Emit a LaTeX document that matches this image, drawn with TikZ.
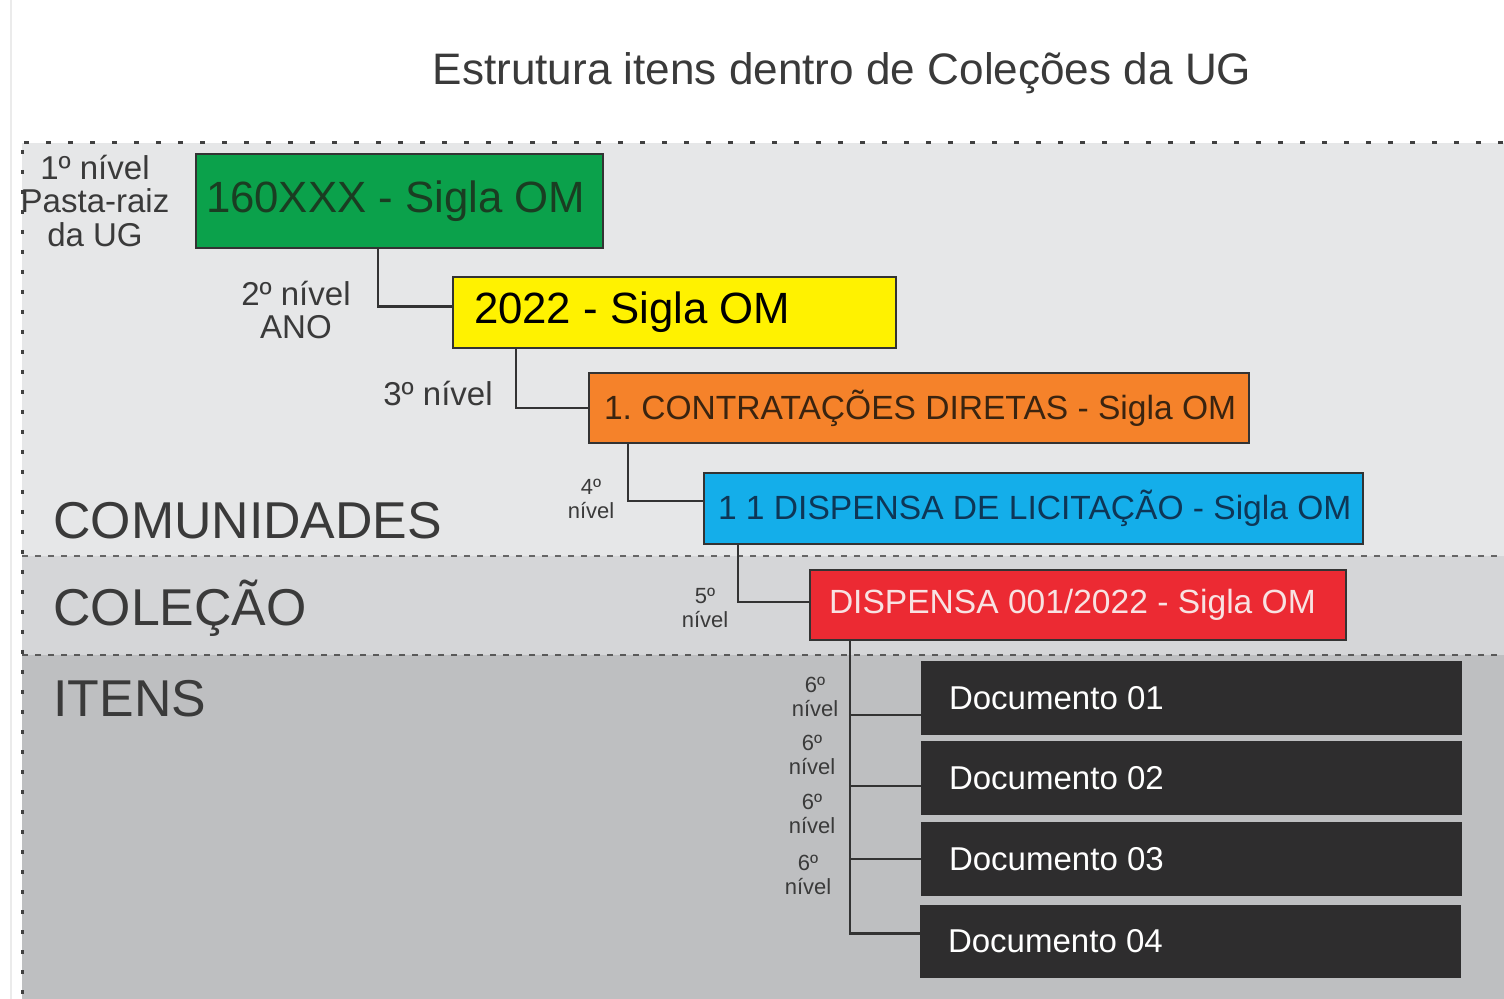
\documentclass[tikz,border=0pt]{standalone}
\usepackage{fontspec}
\setmainfont{Liberation Sans}
\frenchspacing
\newdimen\pxu \pxu=0.02cm
\definecolor{bandA}{HTML}{E6E7E8}
\definecolor{bandB}{HTML}{D5D6D8}
\definecolor{bandC}{HTML}{BEBFC1}
\definecolor{cgreen}{HTML}{0BA14B}
\definecolor{cyellow}{HTML}{FFF200}
\definecolor{corange}{HTML}{F5822A}
\definecolor{cblue}{HTML}{14AEEA}
\definecolor{cred}{HTML}{EC2A33}
\definecolor{cdoc}{HTML}{2E2D2E}
\definecolor{bd}{HTML}{333333}
\definecolor{lbl}{HTML}{3A3A3A}
\definecolor{tgreen}{HTML}{1A3D22}
\definecolor{torange}{HTML}{3A2410}
\definecolor{tblue}{HTML}{0E3656}
\definecolor{tred}{HTML}{F8E2E2}
\newcommand\fTitle{\fontsize{25.1pt}{29pt}\selectfont}
\newcommand\fBig{\fontsize{24.9pt}{29pt}\selectfont}
\newcommand\fMid{\fontsize{18.8pt}{19.3pt}\selectfont}
\newcommand\fBox{\fontsize{19.1pt}{19.3pt}\selectfont}
\newcommand\fSm{\fontsize{12.5pt}{13.4pt}\selectfont}
\newcommand\fBand{\fontsize{29.5pt}{34pt}\selectfont}
\newcommand\lbox[2]{\makebox[#1\pxu][l]{#2}}
\tikzset{
  box/.style={draw=bd, line width=2\pxu, anchor=north west, inner ysep=0pt},
  conn/.style={draw=bd, line width=2.6\pxu},
  lab/.style={text=lbl, align=center, inner sep=0pt},
  bandlab/.style={text=lbl, font=\fBand, anchor=base west, inner sep=0pt},
}
\begin{document}
\begin{tikzpicture}[x=0.02cm,y=-0.02cm]
\useasboundingbox (0,0) rectangle (1504,999);
\fill[white] (0,0) rectangle (1504,999);
\draw[line width=2\pxu, draw=black!8] (11,0) -- (11,999);
% bands
\fill[bandA] (22,143) rectangle (1504,556);
\fill[bandB] (22,556) rectangle (1504,655);
\fill[bandC] (22,655) rectangle (1504,999);
\draw[line width=3\pxu, draw=black!75, dash pattern=on 5\pxu off 17\pxu] (24,143) -- (1504,143);
\draw[line width=2\pxu, draw=black!60, dash pattern=on 6\pxu off 7\pxu] (22,556) -- (1504,556);
\draw[line width=2.4\pxu, draw=black!65, dash pattern=on 6\pxu off 7\pxu] (22,655) -- (1504,655);
\draw[line width=3\pxu, draw=black!75, dash pattern=on 4\pxu off 16\pxu] (22,150) -- (22,999);
% title
\node[text=lbl, font=\fTitle, anchor=base, inner sep=0pt] (title) at (842,85) {Estrutura itens dentro de Coleções da UG};
% band labels
\node[bandlab] (com) at (53,539) {COMUNIDADES};
\node[bandlab] (col) at (53,625) {COLEÇÃO};
\node[bandlab] (ite) at (53,716) {ITENS};
% boxes
\node[box, fill=cgreen, text=tgreen, font=\fBig, inner xsep=10\pxu, minimum height=94\pxu] (n1) at (195,153) {\lbox{387}{160XXX - Sigla OM}};
\node[box, fill=cyellow, text=black, font=\fBig, inner xsep=21\pxu, minimum height=71\pxu] (n2) at (452,276) {\lbox{401}{2022 - Sigla OM}};
\node[box, fill=corange, text=torange, font=\fBox, inner xsep=15\pxu, minimum height=70\pxu] (n3) at (588,372) {\lbox{630}{1. CONTRATAÇÕES DIRETAS - Sigla OM}};
\node[box, fill=cblue, text=tblue, font=\fBox, inner xsep=14\pxu, minimum height=71\pxu] (n4) at (703,472) {\lbox{631}{1 1 DISPENSA DE LICITAÇÃO - Sigla OM}};
\node[box, fill=cred, text=tred, font=\fBox, inner xsep=19\pxu, minimum height=70\pxu] (n5) at (809,569) {\lbox{498}{\raisebox{-2\pxu}{DISPENSA 001/2022 - Sigla OM}}};
\node[box, draw=cdoc, fill=cdoc, text=white, font=\fMid, inner xsep=27\pxu, minimum height=72\pxu] (d1) at (921,661) {\lbox{485}{Documento 01}};
\node[box, draw=cdoc, fill=cdoc, text=white, font=\fMid, inner xsep=27\pxu, minimum height=72\pxu] (d2) at (921,741) {\lbox{485}{Documento 02}};
\node[box, draw=cdoc, fill=cdoc, text=white, font=\fMid, inner xsep=27\pxu, minimum height=72\pxu] (d3) at (921,822) {\lbox{485}{Documento 03}};
\node[box, draw=cdoc, fill=cdoc, text=white, font=\fMid, inner xsep=27\pxu, minimum height=71\pxu] (d4) at (920,905) {\lbox{485}{Documento 04}};
% connectors
\draw[conn] ([xshift=183\pxu]n1.south west) |- ([yshift=6\pxu]n2.west);
\draw[conn] ([xshift=64\pxu]n2.south west) |- (n3.west);
\draw[conn] ([xshift=40\pxu]n3.south west) |- ([yshift=7.5\pxu]n4.west);
\draw[conn] ([xshift=35\pxu]n4.south west) |- ([yshift=3\pxu]n5.west);
\coordinate (trunk) at ([xshift=41\pxu]n5.south west);
\coordinate (e1) at ([yshift=-17\pxu]d1.west);
\coordinate (e2) at ([yshift=-8\pxu]d2.west);
\coordinate (e3) at (d3.west);
\coordinate (e4) at ([yshift=8\pxu]d4.west);
\draw[conn] (trunk) |- (e4);
\draw[conn] (trunk |- e1) -- (e1);
\draw[conn] (trunk |- e2) -- (e2);
\draw[conn] (trunk |- e3) -- (e3);
% level labels
\node[lab, font=\fMid] (l1) at (95,201) {1º nível\\Pasta-raiz\\da UG};
\node[lab, font=\fMid] (l2) at (296,310) {2º nível\\ANO};
\node[lab, font=\fMid] (l3) at (438,394) {3º nível};
\node[lab, font=\fSm] (l4) at (591,499) {4º\\nível};
\node[lab, font=\fSm] (l5) at (705,608) {5º\\nível};
\node[lab, font=\fSm] (l6a) at (815,697) {6º\\nível};
\node[lab, font=\fSm] (l6b) at (812,755) {6º\\nível};
\node[lab, font=\fSm] (l6c) at (812,814) {6º\\nível};
\node[lab, font=\fSm] (l6d) at (808,875) {6º\\nível};
\end{tikzpicture}
\end{document}
